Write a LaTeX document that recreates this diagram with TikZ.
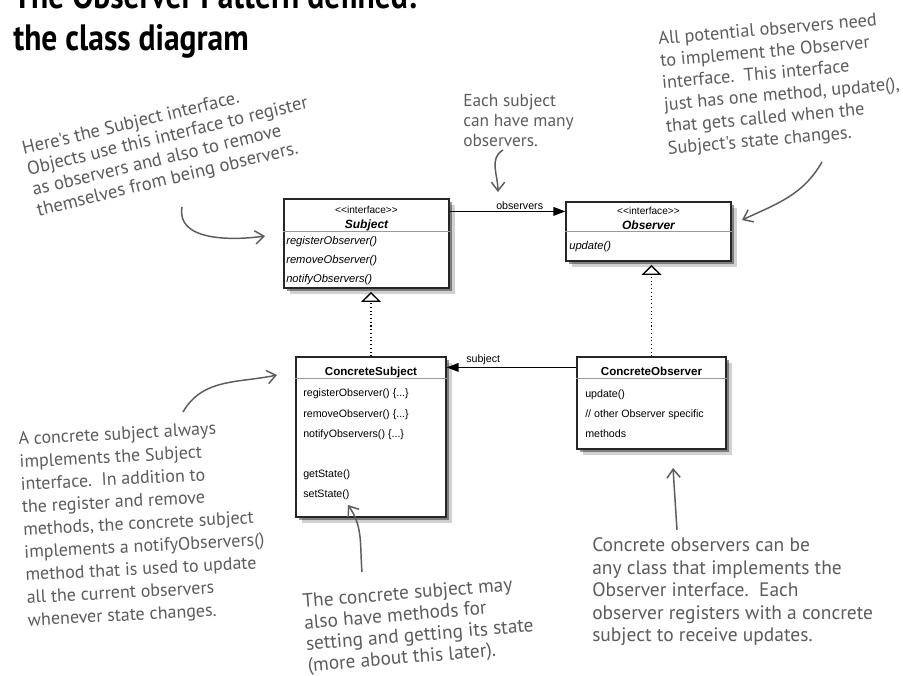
\documentclass[tikz,border=0pt]{standalone}
\usepackage{fontspec}
\setmainfont{Liberation Sans}
\newfontfamily\notefont{PT Sans}
\newfontfamily\titlefont{PT Sans}[FakeStretch=0.86]
\usetikzlibrary{arrows.meta,shadows}
\definecolor{notegray}{HTML}{5C5C5C}

\begin{document}
\begin{tikzpicture}[x=0.75pt,y=0.75pt,
  classbox/.style={draw=black!85,line width=0.9pt,fill=white,inner sep=0pt,
    drop shadow={shadow xshift=4.5pt,shadow yshift=-4.5pt,opacity=.18,fill=black},
    drop shadow={shadow xshift=2.5pt,shadow yshift=-2.5pt,opacity=.4,fill=black}},
  divider/.style={draw=black!40,line width=1pt},
  item/.style={anchor=base west,inner sep=0pt,font=\fontsize{8}{9}\selectfont},
  iitem/.style={item,font=\fontsize{8.4}{9}\selectfont\itshape},
  stereo/.style={anchor=base,inner sep=0pt,font=\fontsize{7.6}{9}\selectfont},
  cname/.style={anchor=base,inner sep=0pt,font=\fontsize{8.7}{10}\selectfont\bfseries},
  iname/.style={cname,font=\fontsize{9}{10}\selectfont\bfseries\itshape},
  lbl/.style={anchor=base west,inner sep=0pt,font=\fontsize{8}{9}\selectfont},
  assoc/.style={line width=1pt,-{Triangle[length=9pt,width=6.5pt]}},
  realize/.style={dotted,line width=0.8pt,shorten >=2.5pt,
    -{Triangle[open,length=7.5pt,width=15pt,line width=1pt]}},
  note/.style={align=left,inner sep=0pt,anchor=west,text=notegray},
  notearrow/.style={draw=notegray,line width=1.1pt,
    -{Straight Barb[length=6.5pt,width=10pt]}},
  titletext/.style={anchor=base west,inner sep=0pt,
    font=\titlefont\bfseries\fontsize{27.5}{30}\selectfont}]

\path[use as bounding box,fill=white] (0,0) rectangle (903,-675);

\node[titletext] (title1) at (13,-8) {The Observer Pattern defined:};
\node[titletext] (title2) at (13,-50) {the class diagram};

\node[classbox,minimum width=123.75pt,minimum height=66.75pt] (subject) at (366.5,-243.5) {};
\node[classbox,minimum width=123.75pt,minimum height=44.25pt] (observer) at (648.5,-231.5) {};
\node[classbox,minimum width=112.5pt,minimum height=120pt] (csubject) at (371,-437) {};
\node[classbox,minimum width=111.75pt,minimum height=69pt] (cobserver) at (651.5,-403) {};

\draw[divider] ([yshift=-24.75pt]subject.north west) -- ([yshift=-24.75pt]subject.north east);
\draw[divider] ([yshift=-22.5pt]observer.north west) -- ([yshift=-22.5pt]observer.north east);
\draw[divider] ([yshift=-16.5pt]csubject.north west) -- ([yshift=-16.5pt]csubject.north east);
\draw[divider] ([yshift=-16.5pt]cobserver.north west) -- ([yshift=-16.5pt]cobserver.north east);

\node[stereo] (subjst) at (366.5,-213) {<\kern0pt<interface>\kern0pt>};
\node[iname] (subjname) at (366.5,-228) {Subject};
\node[iitem] (subjm1) at (286,-244) {registerObserver()};
\node[iitem] (subjm2) at (286,-263) {removeObserver()};
\node[iitem] (subjm3) at (286,-282) {notifyObservers()};

\node[stereo] (obsst) at (648.5,-214) {<\kern0pt<interface>\kern0pt>};
\node[iname] (obsname) at (648.5,-229) {Observer};
\node[iitem] (obsm1) at (569,-249) {update()};

\node[cname] (csname) at (371,-375) {ConcreteSubject};
\node[item] (csm1) at (303,-396) {registerObserver() \{...\}};
\node[item] (csm2) at (303,-417) {removeObserver() \{...\}};
\node[item] (csm3) at (303,-437) {notifyObservers() \{...\}};
\node[item] (csm4) at (303,-477) {getState()};
\node[item] (csm5) at (303,-497) {setState()};

\node[cname] (coname) at (651.5,-375) {ConcreteObserver};
\node[item] (com1) at (585,-397) {update()};
\node[item] (com2) at (585,-417) {// other Observer specific};
\node[item] (com3) at (585,-437) {methods};

\draw[assoc] ([yshift=-9.75pt]subject.north east) -- ([yshift=-7.5pt]observer.north west);
\node[lbl] (obslbl) at (496,-209) {observers};
\draw[assoc] ([yshift=-8.25pt]cobserver.north west) -- ([yshift=-8.25pt]csubject.north east);
\node[lbl] (subjlbl) at (466,-362) {subject};
\draw[realize] (csubject.north) -- (csubject.north |- subject.south);
\draw[realize] (cobserver.north) -- (cobserver.north |- observer.south);

\node[note,rotate=13.5,font=\notefont\fontsize{14}{15.75}\selectfont] (subjnote) at (30,-181)
  {Here's the Subject interface.\\Objects use this interface to register\\as observers and also to remove\\themselves from being observers.};
\node[note,font=\notefont\fontsize{13}{15}\selectfont] (manynote) at (463,-120)
  {Each subject\\can have many\\observers.};
\node[note,rotate=5,font=\notefont\fontsize{13.7}{16.5}\selectfont] (obsnote) at (663,-95)
  {All potential observers need\\to implement the Observer\\interface.\ \ This interface\\just has one method, update(),\\that gets called when the\\Subject's state changes.};
\node[note,rotate=3,font=\notefont\fontsize{13.5}{17}\selectfont] (csnote) at (23,-531)
  {A concrete subject always\\implements the Subject\\interface.\ \ In addition to\\the register and remove\\methods, the concrete subject\\implements a notifyObservers()\\method that is used to update\\all the current observers\\whenever state changes.};
\node[note,rotate=4.7,font=\notefont\fontsize{14.5}{16}\selectfont] (statenote) at (305,-635)
  {The concrete subject may\\also have methods for\\setting and getting its state\\(more about this later).};
\node[note,font=\notefont\fontsize{14.6}{16.9}\selectfont] (conote) at (592,-592)
  {Concrete observers can be\\any class that implements the\\Observer interface.\ \ Each\\observer registers with a concrete\\subject to receive updates.};

\coordinate (n1a) at (182,-207);
\coordinate (n1b) at (265,-236);
\coordinate (n2a) at (503,-150);
\coordinate (n2b) at (498,-192);
\coordinate (n3a) at (822,-162);
\coordinate (n3b) at (742,-220);
\coordinate (n4a) at (183,-412);
\coordinate (n4b) at (277,-375);
\coordinate (n5a) at (362,-572);
\coordinate (n5b) at (348,-505);
\coordinate (n6a) at (677,-530);
\coordinate (n6b) at (673,-468);
\draw[notearrow] (n1a) to[out=-100,in=188] (n1b);
\draw[notearrow] (n2a) to[out=210,in=90] (n2b);
\draw[notearrow] (n3a) to[out=240,in=25] (n3b);
\draw[notearrow] (n4a) to[out=60,in=192] (n4b);
\draw[notearrow] (n5a) to[out=95,in=-55] (n5b);
\draw[notearrow] (n6a) -- (n6b);
\end{tikzpicture}
\end{document}
